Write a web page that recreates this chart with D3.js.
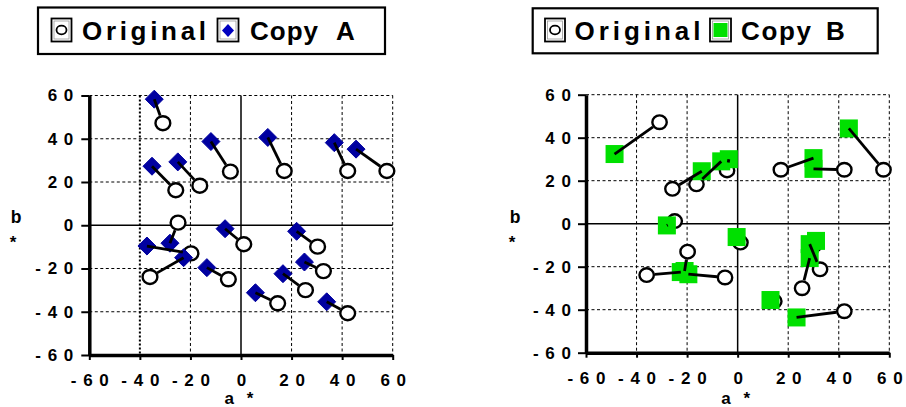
<!DOCTYPE html>
<html><head><meta charset="utf-8">
<script src="https://cdn.jsdelivr.net/npm/d3@7"></script>
<style>
body{margin:0;background:#fff;}
svg{display:block;font-family:"Liberation Sans",Arial,sans-serif;font-weight:bold;}
</style></head>
<body><svg id="c" width="906" height="407"></svg>
<script>
// ---- data (a*, b*) ----
const tickValues = [-60,-40,-20,0,20,40,60];
const original = [[-30.9,47.2],[-25.8,16.2],[-16.3,18.3],[-4.2,24.8],[17.1,25.1],[42.2,25.1],[57.7,25.1],
  [-24.9,1.2],[-19.8,-13.0],[-36.0,-23.9],[1.1,-8.8],[-5.0,-25.0],[14.5,-36.1],[25.5,-30.0],[32.6,-21.2],[30.3,-9.9],[42.2,-40.7]];
const copyA = [[-34.3,58.3],[-35.2,27.3],[-25.0,29.3],[-11.9,38.7],[10.6,40.6],[36.9,38.2],[45.5,35.2],
  [-28.1,-8.3],[-37.2,-9.6],[-22.7,-15.0],[-6.3,-1.6],[-13.5,-19.6],[5.7,-31.2],[16.6,-22.4],[25.1,-17.0],[22.0,-2.8],[33.9,-35.4]];
const copyB = [[-48.7,32.4],[-14.2,24.4],[-6.5,29.0],[-3.5,30.0],[30.0,30.5],[30.0,25.5],[44.0,44.3],
  [-28.0,-0.8],[-21.0,-22.0],[-22.5,-22.5],[-0.4,-6.2],[-19.5,-23.5],[13.0,-35.5],[28.5,-16.0],[28.5,-9.5],[31.0,-8.0],[23.3,-43.6]];
const legendA = ["Original","Copy","A"];
const legendB = ["Original","Copy","B"];
const axisTitles = {x:"a *", y1:"b", y2:"*"};

const svg = d3.select("#c");
const fmt = v => String(v).split("").join(" ");

function panel(cfg){
  const x = d3.scaleLinear([-60,60],[cfg.x0,cfg.x1]);
  const y = d3.scaleLinear([-60,60],[cfg.y0,cfg.y1]);
  const g = svg.append("g");
  const gv = tickValues.filter(v=>v!==-60 && v!==0);
  g.selectAll(".gv").data(gv).join("line")
    .attr("x1",d=>x(d)).attr("x2",d=>x(d)).attr("y1",y(60)).attr("y2",y(-60))
    .attr("stroke","#000").attr("stroke-width",d=>(cfg.boldM40 && d===-40)?2:1)
    .attr("stroke-dasharray",d=>(cfg.boldM40 && d===-40)?"2,2":"3,2.5");
  g.selectAll(".gh").data(gv).join("line")
    .attr("y1",d=>y(d)).attr("y2",d=>y(d)).attr("x1",x(-60)).attr("x2",x(60))
    .attr("stroke","#000").attr("stroke-width",1).attr("stroke-dasharray","3,2.5");
  g.append("line").attr("x1",x(0)).attr("x2",x(0)).attr("y1",y(60)).attr("y2",y(-60)).attr("stroke","#000").attr("stroke-width",1.5);
  g.append("line").attr("y1",y(0)).attr("y2",y(0)).attr("x1",x(-60)).attr("x2",x(60)).attr("stroke","#000").attr("stroke-width",1.5);
  const ax = g.append("g").attr("transform",`translate(0,${y(-60)})`)
    .call(d3.axisBottom(x).tickValues(tickValues).tickFormat(fmt).tickSize(5).tickSizeOuter(0).tickPadding(cfg.xPad));
  const ay = g.append("g").attr("transform",`translate(${x(-60)},0)`)
    .call(d3.axisLeft(y).tickValues(tickValues).tickFormat(fmt).tickSize(8).tickSizeOuter(0).tickPadding(cfg.yPad));
  [ax,ay].forEach(a=>{
    a.select(".domain").attr("stroke-width",3.5);
    a.selectAll(".tick line").attr("stroke-width",2);
    a.selectAll("text").attr("font-size",17).attr("font-weight","bold").attr("fill","#000")
      .attr("font-family","Liberation Sans, Arial, sans-serif").style("letter-spacing","1px");
  });
  ax.selectAll("text").attr("dx","0.5px");
  g.append("text").attr("x",x(0)).attr("y",cfg.xtY).attr("text-anchor","middle").attr("font-size",17).style("letter-spacing","4px").text(axisTitles.x);
  g.append("text").attr("x",cfg.ytX).attr("y",223).attr("text-anchor","middle").attr("font-size",17.5).text(axisTitles.y1);
  g.append("text").attr("x",cfg.ytX-3).attr("y",248).attr("text-anchor","middle").attr("font-size",17).text(axisTitles.y2);
  return {x,y,g};
}

function drawPairs(p, orig, copy, kind){
  const {x,y,g} = p;
  const r = kind==="A"?7:6.8;
  g.append("g").selectAll("ellipse").data(orig).join("ellipse")
    .attr("cx",d=>x(d[0])).attr("cy",d=>y(d[1])).attr("rx",r+0.4).attr("ry",r)
    .attr("fill","#fff").attr("stroke","#000").attr("stroke-width",2.4);
  if(kind==="A"){
    g.append("g").selectAll("path").data(copy).join("path")
      .attr("d",d=>{const cx=x(d[0]),cy=y(d[1]),h=9;return `M${cx},${cy-h}L${cx+h},${cy}L${cx},${cy+h}L${cx-h},${cy}Z`;})
      .attr("fill","#0000a0").attr("stroke","#0000a0").attr("stroke-width",1).attr("stroke-linejoin","round");
  } else {
    g.append("g").selectAll("rect").data(copy).join("rect")
      .attr("x",d=>x(d[0])-9).attr("y",d=>y(d[1])-9).attr("width",18).attr("height",18)
      .attr("fill","#00e000");
  }
  g.append("g").selectAll("line").data(orig.map((o,i)=>[o,copy[i]])).join("line")
    .each(function(d){
      const ox=x(d[0][0]),oy=y(d[0][1]),cx=x(d[1][0]),cy=y(d[1][1]);
      const dx=ox-cx,dy=oy-cy,L=Math.hypot(dx,dy)||1;
      const k=Math.max(0,(L-(r+1.2))/L);
      d3.select(this).attr("x1",cx).attr("y1",cy).attr("x2",cx+dx*k).attr("y2",cy+dy*k);
    })
    .attr("stroke","#000").attr("stroke-width",2.8);
}

function legend(L){
  const g = svg.append("g");
  g.append("rect").attr("x",L.bx).attr("y",L.by).attr("width",L.bw).attr("height",L.bh)
    .attr("fill","#fff").attr("stroke","#000").attr("stroke-width",2.2);
  g.append("rect").attr("x",L.i1).attr("y",18.5).attr("width",20).attr("height",23).attr("fill","#fff").attr("stroke","#000").attr("stroke-width",1.8);
  g.append("rect").attr("x",L.i1+2.5).attr("y",21).attr("width",15).attr("height",18).attr("fill","none").attr("stroke","#999").attr("stroke-width",0.8);
  g.append("ellipse").attr("cx",L.i1+10).attr("cy",30).attr("rx",5).attr("ry",4.3).attr("fill","#fff").attr("stroke","#000").attr("stroke-width",1.8);
  g.append("rect").attr("x",L.i2).attr("y",18.5).attr("width",21).attr("height",23).attr("fill","#fff").attr("stroke","#000").attr("stroke-width",1.8);
  g.append("rect").attr("x",L.i2+2.5).attr("y",21).attr("width",16).attr("height",18).attr("fill","none").attr("stroke","#999").attr("stroke-width",0.8);
  const cx=L.i2+10.5;
  if(L.kind==="A"){
    g.append("path").attr("d",`M${cx},${24}L${cx+6},${30.5}L${cx},${37}L${cx-6},${30.5}Z`).attr("fill","#0000c0");
  } else {
    g.append("rect").attr("x",cx-7).attr("y",23).attr("width",14).attr("height",14).attr("fill","#00e000");
  }
  const t = (s,x,len)=>{const e=g.append("text").attr("x",x).attr("y",39.5).attr("font-size",26).text(s);
     if(len) e.attr("textLength",len).attr("lengthAdjust","spacing");};
  t(L.text[0],L.t1,L.l1); t(L.text[1],L.t2,L.l2); t(L.text[2],L.t3);
}

const pA = panel({x0:89.3,x1:392.7,y0:355,y1:95.5,xPad:14,yPad:7,xtY:404,ytX:16,boldM40:true});
drawPairs(pA, original, copyA, "A");
const pB = panel({x0:586,x1:889.3,y0:352.7,y1:94.7,xPad:14,yPad:6,xtY:404,ytX:515,boldM40:false});
drawPairs(pB, original, copyB, "B");

legend({kind:"A",bx:38,by:7.5,bw:347,bh:46.5,i1:51.5,i2:217.5,t1:82,l1:124,t2:250,l2:68,t3:336,text:legendA});
legend({kind:"B",bx:532.7,by:8.3,bw:345,bh:45,i1:545,i2:710,t1:574.5,l1:126,t2:741,l2:70,t3:826,text:legendB});
</script></body></html>
